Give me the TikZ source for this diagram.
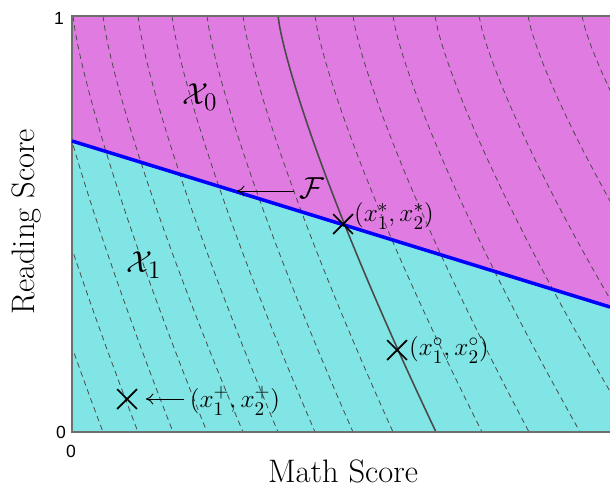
\documentclass[tikz,border=0pt]{standalone}
\usepackage{fontspec}
\usepackage{amsmath,amssymb}
\usetikzlibrary{arrows.meta,shapes.misc}
\definecolor{zonepink}{HTML}{E07BE1}
\definecolor{zonecyan}{HTML}{80E5E4}
\definecolor{frameink}{HTML}{6E6E6E}
\definecolor{levelink}{HTML}{4A4A4A}
\newfontfamily\tickfont{Liberation Sans}

\begin{document}
\begin{tikzpicture}[x=0.2mm,y=-0.2mm,
  level/.style={levelink,line width=0.45pt,dash pattern=on 1.1mm off 0.8mm},
  optline/.style={levelink,line width=0.9pt},
  frontier/.style={blue,line width=2pt},
  crossmark/.style={draw=black,cross out,line width=1pt,minimum size=3.6mm,inner sep=0pt},
  lab/.style={font=\fontsize{15}{18}\selectfont,inner sep=3pt},
  setlab/.style={font=\fontsize{19}{23}\selectfont,inner sep=3pt},
  axlab/.style={font=\fontsize{18.5}{22}\selectfont,inner sep=0pt},
  tick/.style={font=\tickfont\fontsize{10}{12}\selectfont,inner sep=0pt},
  arr/.style={-{Computer Modern Rightarrow[length=1.5mm,width=2.2mm]},line width=0.5pt}]
\path[use as bounding box] (0,0) rectangle (610,494);
\fill[white] (0,0) rectangle (610,494);
\fill[zonepink] (72,16) -- (610,16) -- (610,307) -- (72,141) -- cycle;
\fill[zonecyan] (72,141) -- (610,307) -- (610,432) -- (72,432) -- cycle;
\begin{scope}
\clip (72,16) rectangle (610,432);
\draw[level] plot[domain=0:1,samples=30] ({-53+121*\x*sqrt(sqrt(\x))},{16+416*\x});
\draw[level] plot[domain=0:1,samples=30] ({-22+125*\x*sqrt(sqrt(\x))},{16+416*\x});
\draw[level] plot[domain=0:1,samples=30] ({10+128*\x*sqrt(sqrt(\x))},{16+416*\x});
\draw[level] plot[domain=0:1,samples=30] ({43+130*\x*sqrt(sqrt(\x))},{16+416*\x});
\draw[level] plot[domain=0:1,samples=30] ({73+134*\x*sqrt(sqrt(\x))},{16+416*\x});
\draw[level] plot[domain=0:1,samples=30] ({103+140*\x*sqrt(sqrt(\x))},{16+416*\x});
\draw[level] plot[domain=0:1,samples=30] ({138+140*\x*sqrt(sqrt(\x))},{16+416*\x});
\draw[level] plot[domain=0:1,samples=30] ({172+143*\x*sqrt(sqrt(\x))},{16+416*\x});
\draw[level] plot[domain=0:1,samples=30] ({207+146*\x*sqrt(sqrt(\x))},{16+416*\x});
\draw[level] plot[domain=0:1,samples=30] ({243+150*\x*sqrt(sqrt(\x))},{16+416*\x});
\draw[level] plot[domain=0:1,samples=30] ({315+167*\x*sqrt(sqrt(\x))},{16+416*\x});
\draw[level] plot[domain=0:1,samples=30] ({353+176*\x*sqrt(sqrt(\x))},{16+416*\x});
\draw[level] plot[domain=0:1,samples=30] ({393+187*\x*sqrt(sqrt(\x))},{16+416*\x});
\draw[level] plot[domain=0:1,samples=30] ({435+199*\x*sqrt(sqrt(\x))},{16+416*\x});
\draw[level] plot[domain=0:1,samples=30] ({479+212*\x*sqrt(sqrt(\x))},{16+416*\x});
\draw[level] plot[domain=0:1,samples=30] ({528+226*\x*sqrt(sqrt(\x))},{16+416*\x});
\draw[level] plot[domain=0:1,samples=30] ({582+242*\x*sqrt(sqrt(\x))},{16+416*\x});
\draw[optline] plot[domain=0:1,samples=40] ({278+158*\x*sqrt(sqrt(\x))},{16+416*\x});
\end{scope}
\draw[frameink,line width=0.8pt] (610,16) -- (72,16) -- (72,432) -- (610,432);
\draw[frontier] (72,141) -- (610,307);
\node[crossmark] (pstar) at (343,224) {};
\node[crossmark] (pcirc) at (397,350) {};
\node[crossmark] (pplus) at (127,399) {};
\node[setlab] (xzero) at (200,97) {$\mathcal{X}_0$};
\node[setlab] (xone) at (144,265) {$\mathcal{X}_1$};
\node[setlab] (front) at (312,188) {$\mathcal{F}$};
\coordinate (fhit) at (237,191);
\node[lab,anchor=west,inner sep=1pt] (lstar) at (352,216) {$(x_1^*,x_2^*)$};
\node[lab,anchor=west,inner sep=1pt] (lcirc) at (407,350) {$(x_1^\circ,x_2^\circ)$};
\node[lab] (lplus) at (235,401) {$(x_1^+,x_2^+)$};
\draw[arr] (front.west |- fhit) -- (fhit);
\draw[arr,shorten >=1.8mm] (lplus.west |- pplus) -- (pplus);
\node[axlab,rotate=90] (ylab) at (26,222) {Reading Score};
\node[axlab] (xlab) at (343,471) {Math Score};
\node[tick] (yone) at (59,18) {1};
\node[tick] (yzero) at (61,432) {0};
\node[tick] (xzer) at (71,451) {0};
\end{tikzpicture}
\end{document}
